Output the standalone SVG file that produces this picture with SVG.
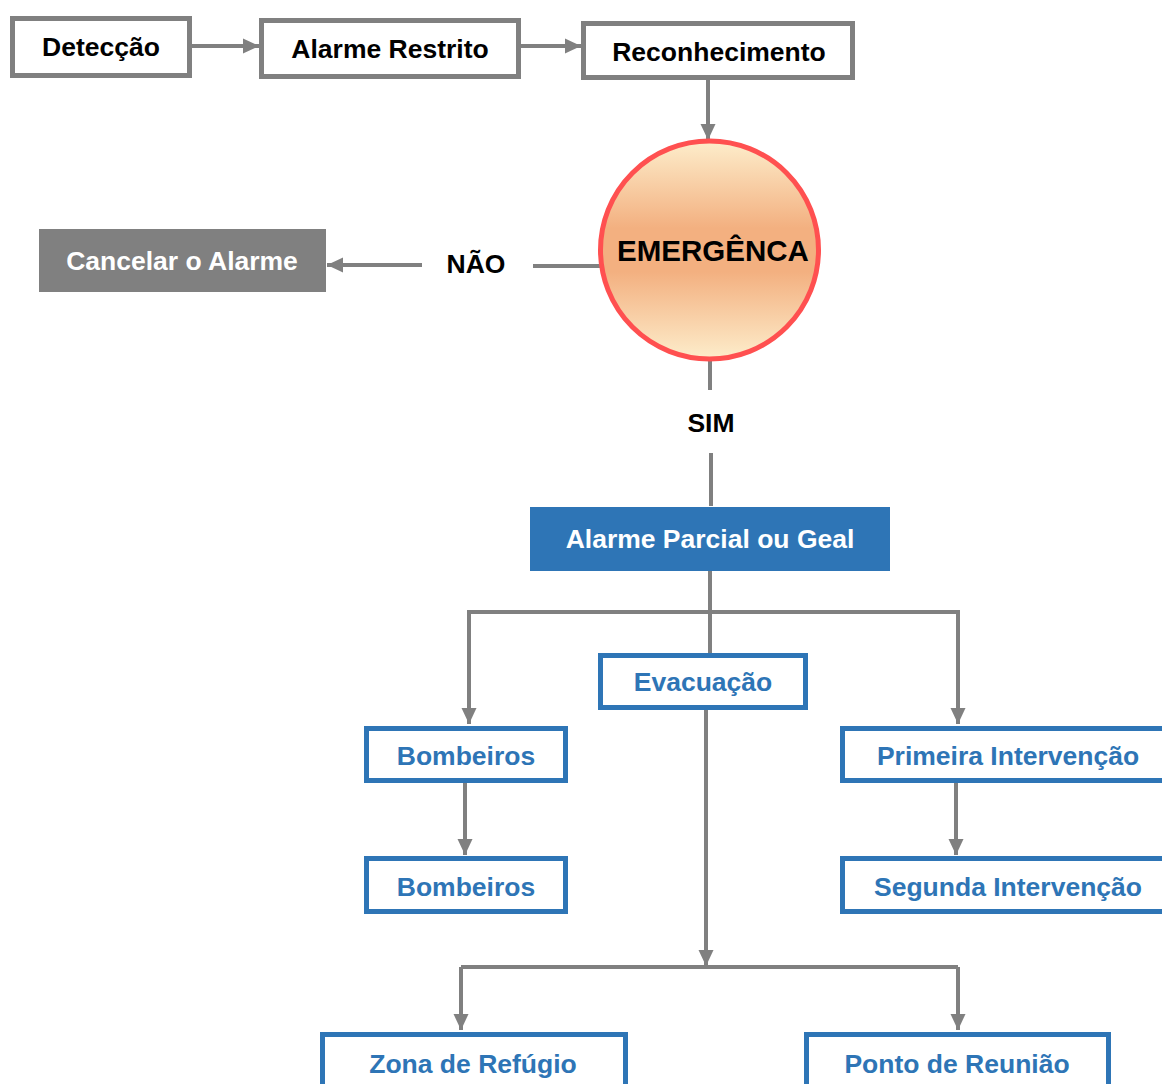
<svg xmlns="http://www.w3.org/2000/svg" width="1162" height="1084" viewBox="0 0 1162 1084">
<style>
text{font-family:"Liberation Sans",Arial,sans-serif;font-weight:bold;font-size:26.5px;text-anchor:middle;dominant-baseline:central}
.gbox{fill:#fff;stroke:#808080;stroke-width:5}
.bbox{fill:#fff;stroke:#2E75B6;stroke-width:5}
.blk{fill:#000}
.wht{fill:#fff}
.blu{fill:#2E75B6}
.con{fill:none;stroke:#808080;stroke-width:4}
</style>
<defs>
<marker id="ah" markerUnits="userSpaceOnUse" markerWidth="18" markerHeight="18" refX="16" refY="9" orient="auto">
<path d="M0,1.5 L16,9 L0,16.5 z" fill="#808080"/>
</marker>
<linearGradient id="eg" x1="0" y1="0" x2="0" y2="1">
<stop offset="0" stop-color="#FDEDCB"/>
<stop offset="0.4" stop-color="#F3B080"/>
<stop offset="0.6" stop-color="#F3B080"/>
<stop offset="1" stop-color="#FDEDCB"/>
</linearGradient>
</defs>
<g id="connectors">
<line class="con" x1="192" y1="46" x2="259" y2="46" marker-end="url(#ah)" stroke-width="5"/>
<line class="con" x1="521" y1="46" x2="581" y2="46" marker-end="url(#ah)" stroke-width="5"/>
<line class="con" x1="708" y1="80" x2="708" y2="140" marker-end="url(#ah)"/>
<line class="con" x1="600" y1="266" x2="533" y2="266" stroke-width="5"/>
<line class="con" x1="422" y1="265" x2="327" y2="265" marker-end="url(#ah)" stroke-width="5"/>
<line class="con" x1="710" y1="361" x2="710" y2="390"/>
<line class="con" x1="711" y1="453" x2="711" y2="506"/>
<path class="con" d="M710,571 V654"/>
<path class="con" d="M469,650 V612 H958 V650"/>
<line class="con" x1="469" y1="648" x2="469" y2="724" marker-end="url(#ah)"/>
<line class="con" x1="958" y1="648" x2="958" y2="724" marker-end="url(#ah)"/>
<line class="con" x1="706" y1="709" x2="706" y2="966" marker-end="url(#ah)"/>
<path class="con" d="M461,967 H958"/>
<line class="con" x1="461" y1="967" x2="461" y2="1030" marker-end="url(#ah)"/>
<line class="con" x1="958" y1="967" x2="958" y2="1030" marker-end="url(#ah)"/>
<line class="con" x1="465" y1="782" x2="465" y2="855" marker-end="url(#ah)"/>
<line class="con" x1="956" y1="782" x2="956" y2="855" marker-end="url(#ah)"/>
</g>
<g id="deteccao"><rect class="gbox" x="12.5" y="18.5" width="177" height="57"/><text class="blk" x="101" y="47">Detecção</text></g>
<g id="alarme-restrito"><rect class="gbox" x="261.5" y="20.5" width="257" height="56"/><text class="blk" x="390" y="49">Alarme Restrito</text></g>
<g id="reconhecimento"><rect class="gbox" x="583.5" y="23.5" width="269" height="54"/><text class="blk" x="719" y="52">Reconhecimento</text></g>
<g id="emergencia"><ellipse cx="709.5" cy="250" rx="109" ry="109" fill="url(#eg)" stroke="#FF5050" stroke-width="5"/><text class="blk" x="713" y="250" style="font-size:29.5px">EMERGÊNCA</text></g>
<g id="nao"><text class="blk" x="476" y="264">NÃO</text></g>
<g id="cancelar"><rect x="39" y="229" width="287" height="63" fill="#808080"/><text class="wht" x="182" y="261">Cancelar o Alarme</text></g>
<g id="sim"><text class="blk" x="711" y="423">SIM</text></g>
<g id="alarme-parcial"><rect x="530" y="507" width="360" height="64" fill="#2E75B6"/><text class="wht" x="710" y="539">Alarme Parcial ou Geal</text></g>
<g id="evacuacao"><rect class="bbox" x="600.5" y="655.5" width="205" height="52"/><text class="blu" x="703" y="682">Evacuação</text></g>
<g id="bombeiros1"><rect class="bbox" x="366.5" y="728.5" width="199" height="52"/><text class="blu" x="466" y="756">Bombeiros</text></g>
<g id="bombeiros2"><rect class="bbox" x="366.5" y="858.5" width="199" height="53"/><text class="blu" x="466" y="887">Bombeiros</text></g>
<g id="primeira"><rect class="bbox" x="842.5" y="728.5" width="330" height="52"/><text class="blu" x="1008" y="756">Primeira Intervenção</text></g>
<g id="segunda"><rect class="bbox" x="842.5" y="858.5" width="330" height="53"/><text class="blu" x="1008" y="887">Segunda Intervenção</text></g>
<g id="zona"><rect class="bbox" x="322.5" y="1034.5" width="303" height="60"/><text class="blu" x="473" y="1064">Zona de Refúgio</text></g>
<g id="ponto"><rect class="bbox" x="806.5" y="1034.5" width="302" height="60"/><text class="blu" x="957" y="1064">Ponto de Reunião</text></g>
</svg>
